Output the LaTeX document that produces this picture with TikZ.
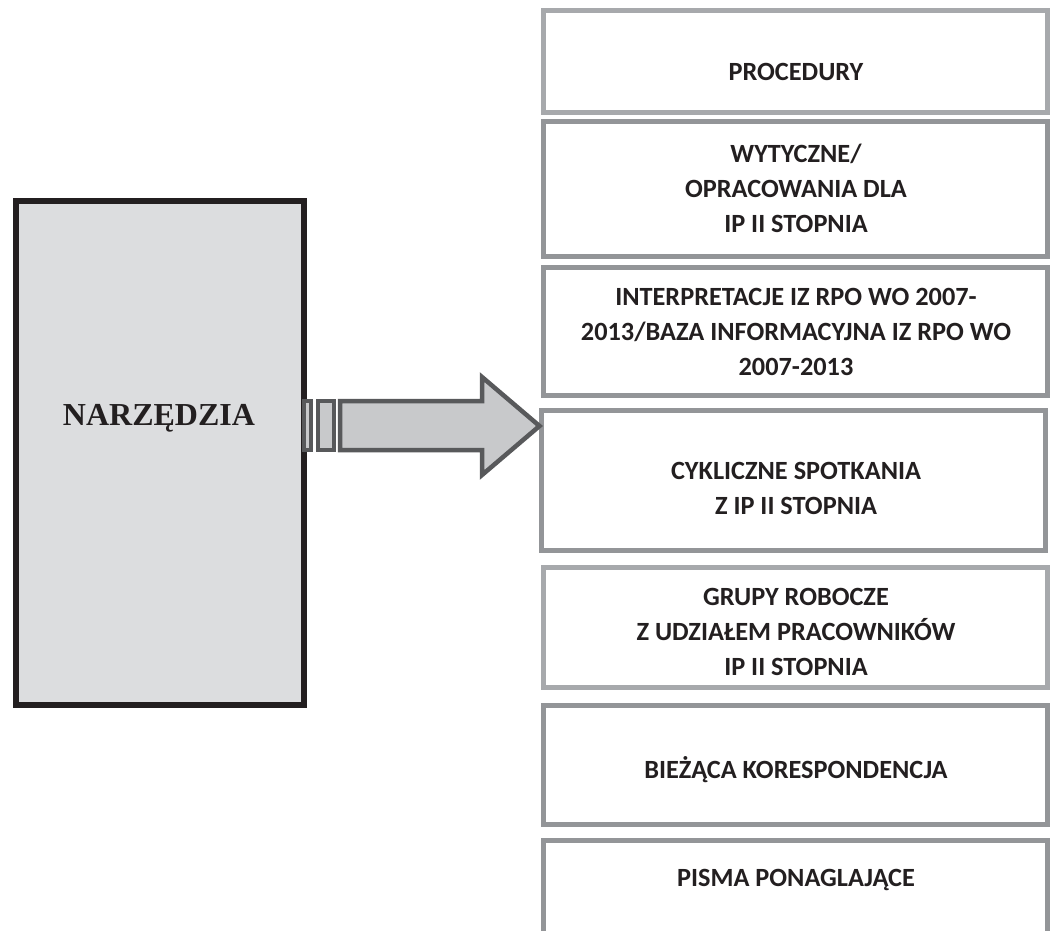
\documentclass[tikz,border=0pt]{standalone}
\usepackage{fontspec}
\newfontfamily\calfont{Carlito}
\newfontfamily\serfont{Liberation Serif}
\definecolor{txt}{HTML}{231F20}
\definecolor{boxgray}{HTML}{939598}
\definecolor{boxlight}{HTML}{A7A9AC}
\definecolor{leftfill}{HTML}{DCDDDF}
\definecolor{arrowline}{HTML}{58595B}
\definecolor{arrowfill}{HTML}{C8C9CB}
\tikzset{
  rbox/.style={draw=boxgray, line width=5pt, fill=white, rectangle, inner sep=0pt, minimum width=504pt},
  rboxlight/.style={rbox, draw=boxlight},
  rtext/.style={text=txt, align=center, inner sep=0pt, font=\calfont\bfseries\fontsize{26.3}{35}\selectfont},
  lbox/.style={draw=txt, line width=6pt, fill=leftfill, rectangle, inner sep=0pt},
  sbox/.style={draw=arrowline, line width=4pt, fill=arrowfill, rectangle, inner sep=0pt},
  bigarrow/.style={draw=arrowline, line width=4.5pt, fill=arrowfill, line join=miter}
}
\begin{document}
\begin{tikzpicture}[x=1pt,y=-1pt]
\useasboundingbox (0,0) rectangle (1053,931);
\clip (0,0) rectangle (1053,931);
% left box
\node[lbox, minimum width=288pt, minimum height=504pt] (L) at (160,453) {};
\node[text=txt, inner sep=0pt, font=\serfont\bfseries\fontsize{32}{36}\selectfont] (Lt) at (159,418) {NARZĘDZIA};
% right boxes
\node[rboxlight, minimum height=102pt] (b1) at (795.5,61.5) {};
\node[rbox, minimum height=135pt] (b2) at (795.5,189) {};
\node[rbox, minimum height=128pt] (b3) at (795.5,331.5) {};
\node[rbox, minimum height=140pt] (b4) at (793,480.5) {};
\node[rboxlight, minimum height=120pt] (b5) at (795.5,627.5) {};
\node[rbox, minimum height=119pt] (b6) at (795.5,765) {};
\node[rbox, minimum height=117pt] (b7) at (795.5,899) {};
\node[rtext] (t1) at (796,72) {PROCEDURY};
\node[rtext] (t2) at (796,188) {WYTYCZNE/\\OPRACOWANIA DLA\\IP II STOPNIA};
\node[rtext] (t3) at (796,332) {INTERPRETACJE IZ RPO WO 2007-\\2013/BAZA INFORMACYJNA IZ RPO WO\\2007-2013};
\node[rtext] (t4) at (796,488) {CYKLICZNE SPOTKANIA\\Z IP II STOPNIA};
\node[rtext] (t5) at (796,632) {GRUPY ROBOCZE\\Z UDZIAŁEM PRACOWNIKÓW\\IP II STOPNIA};
\node[rtext] (t6) at (796,770) {BIEŻĄCA KORESPONDENCJA};
\node[rtext] (t7) at (796,880) {PISMA PONAGLAJĄCE};
% arrow
\node[sbox, minimum width=7pt, minimum height=49pt] (s1) at (307.5,425.5) {};
\node[sbox, minimum width=16pt, minimum height=49pt] (s2) at (326,425.5) {};
\coordinate (tip) at (539.5,426);
\draw[bigarrow] (340,401) -- (482,401) -- (482,377) -- (tip) -- (482,475) -- (482,450) -- (340,450) -- cycle;
\end{tikzpicture}
\end{document}
